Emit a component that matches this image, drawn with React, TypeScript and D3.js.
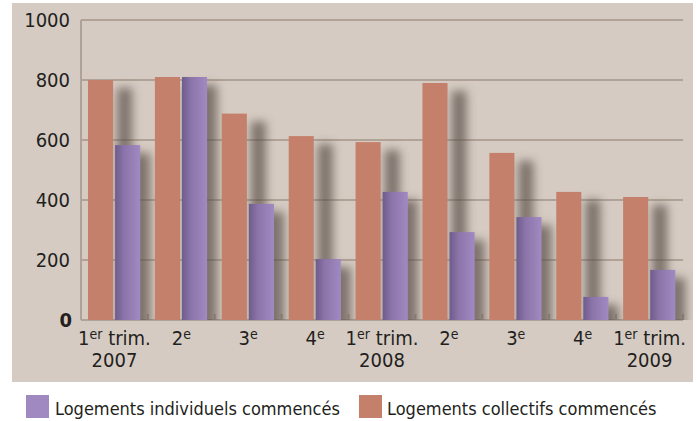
import React from "react";
import * as d3 from "d3";

const quarters = ["q1-2007", "q2-2007", "q3-2007", "q4-2007", "q1-2008", "q2-2008", "q3-2008", "q4-2008", "q1-2009"];
const labelLine1 = [["1", "er", " trim."], ["2", "e", ""], ["3", "e", ""], ["4", "e", ""], ["1", "er", " trim."], ["2", "e", ""], ["3", "e", ""], ["4", "e", ""], ["1", "er", " trim."]];
const labelLine2 = ["2007", "", "", "", "2008", "", "", "", "2009"];
const collectifs = [800, 810, 688, 613, 593, 790, 557, 427, 410];
const individuels = [583, 810, 387, 203, 427, 293, 343, 77, 167];
const yTicks = [0, 200, 400, 600, 800, 1000];

const FONT = "'Liberation Sans Narrow', 'DejaVu Sans Condensed', 'Open Sans', sans-serif";

export default function App() {
  const W = 698, H = 421;
  const left = 81, right = 683, top = 20, bottom = 320;
  const x = d3.scaleBand<string>().domain(quarters).range([left, right]);
  const y = d3.scaleLinear().domain([0, 1000]).range([bottom, top]);
  const bw = x.bandwidth();
  const barW = bw * 0.375;
  const off1 = bw * 0.105;
  const off2 = off1 + barW + 2;
  const grid = "#b0a296";
  const orange = "#c5806b";
  return (
    <svg width={W} height={H} style={{ position: "absolute", left: 0, top: 0 }}>
      <defs>
        <linearGradient id="purp" x1="0" x2="1" y1="0" y2="0">
          <stop offset="0" stopColor="#6f5b8c" />
          <stop offset="0.35" stopColor="#8a74a8" />
          <stop offset="1" stopColor="#a18ac2" />
        </linearGradient>
        <filter id="blur" x="-50%" y="-20%" width="200%" height="140%">
          <feGaussianBlur stdDeviation="5" />
        </filter>
        <clipPath id="plotclip">
          <rect x={left} y={0} width={right - left + 10} height={bottom} />
        </clipPath>
      </defs>
      <rect x={0} y={0} width={W} height={H} fill="#ffffff" />
      <rect x={12} y={3} width={681} height={379} fill="#d5cbc2" />
      {yTicks.map((t) => (
        <line key={t} x1={left} x2={right} y1={y(t)} y2={y(t)} stroke={grid} strokeWidth={2} />
      ))}
      <line x1={left} x2={left} y1={top} y2={bottom} stroke={grid} strokeWidth={2} />
      {quarters.map((q) => (
        <line key={"tk" + q} x1={x(q)!} x2={x(q)!} y1={bottom} y2={bottom - 6} stroke={grid} strokeWidth={2} />
      ))}
      <line x1={right} x2={right} y1={bottom} y2={bottom - 6} stroke={grid} strokeWidth={2} />
      <g clipPath="url(#plotclip)">
        {quarters.map((q, i) => {
          const x0 = x(q)!;
          return (
            <g key={"sh" + q} filter="url(#blur)" opacity={0.7}>
              <rect x={x0 + off1 + barW + 4} y={y(collectifs[i]) + 8} width={barW * 0.6} height={bottom - y(collectifs[i])} fill="#5a4f48" />
              <rect x={x0 + off2 + barW * 0.4} y={y(individuels[i]) + 8} width={barW} height={bottom - y(individuels[i])} fill="#5a4f48" />
            </g>
          );
        })}
      </g>
      {quarters.map((q, i) => {
        const x0 = x(q)!;
        return (
          <g key={"b" + q}>
            <rect x={x0 + off1} y={y(collectifs[i])} width={barW} height={bottom - y(collectifs[i])} fill={orange} />
            <rect x={x0 + off2} y={y(individuels[i])} width={barW} height={bottom - y(individuels[i])} fill="url(#purp)" />
          </g>
        );
      })}
      {yTicks.map((t) => (
        <text key={"yl" + t} x={t === 0 ? 72 : 70} y={y(t) + 7} textAnchor="end" fontFamily={FONT} fontSize={20} fontWeight={t === 0 ? "bold" : "normal"} fill="#231f20">
          {t}
        </text>
      ))}
      {quarters.map((q, i) => {
        const cx = x(q)! + bw / 2;
        const l = labelLine1[i];
        return (
          <g key={"xl" + q} fontFamily={FONT} fill="#231f20">
            <text x={cx} y={345} textAnchor="middle" fontSize={20}>
              {l[0]}
              <tspan fontSize={14} dy={-6}>{l[1]}</tspan>
              <tspan dy={6}>{l[2]}</tspan>
            </text>
            {labelLine2[i] && (
              <text x={cx} y={367} textAnchor="middle" fontSize={20}>
                {labelLine2[i]}
              </text>
            )}
          </g>
        );
      })}
      <rect x={26} y={395} width={23} height={23} fill="#a088c0" />
      <text x={55} y={415} fontFamily={FONT} fontSize={18} fill="#231f20">Logements individuels commencés</text>
      <rect x={359} y={395} width={23} height={23} fill={orange} />
      <text x={387} y={415} fontFamily={FONT} fontSize={18} fill="#231f20">Logements collectifs commencés</text>
    </svg>
  );
}
